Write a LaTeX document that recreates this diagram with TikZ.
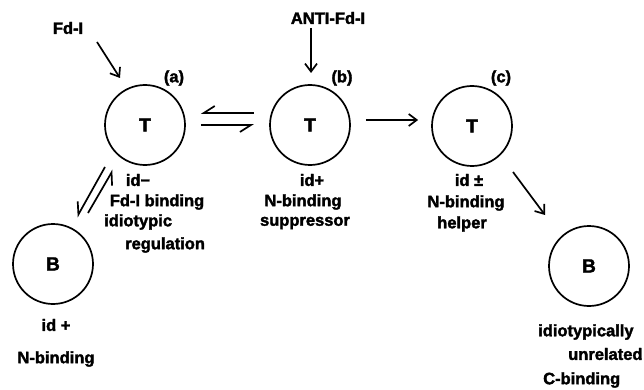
\documentclass[tikz,border=0pt]{standalone}
\usepackage{fontspec}
\setmainfont{Liberation Sans}[BoldFeatures={FakeBold=2}]
\usetikzlibrary{arrows.meta}
\newcommand\lblfont{\fontsize{16.5}{19}\selectfont\bfseries}
\newcommand\cellfont{\fontsize{19}{22}\selectfont\bfseries}
\begin{document}
\begin{tikzpicture}[x=1pt,y=-1pt,
  cell/.style={circle,draw,line width=1.7pt,minimum size=80pt,inner sep=0pt,font=\cellfont},
  lbl/.style={font=\lblfont,inner sep=0pt},
  arr/.style={line width=1.7pt,-{Straight Barb[length=8pt,width=12pt,line width=1.7pt]}},
  harps/.style={line width=1.7pt,-{Straight Barb[harpoon,swap,length=11pt,width=14pt,line width=1.7pt]}}]
\useasboundingbox (0,0) rectangle (644,390);
% cells
\node[cell] (a) at (145,125) {T};
\node[cell] (b) at (310,125) {T};
\node[cell] (c) at (472,126) {T};
\node[cell] (bl) at (53,264) {B};
\node[cell] (br) at (589,266) {B};
% top labels
\node[lbl] (fdi) at (68,28) {Fd-I};
\node[lbl] (anti) at (328,18) {ANTI-Fd-I};
\node[lbl] (la) at (174,78) {(a)};
\node[lbl] (lb) at (342,78) {(b)};
\node[lbl] (lc) at (501,78) {(c)};
% texts under a
\node[lbl] (ida) at (138,180) {id\textminus};
\node[lbl] (fdb) at (157,202) {Fd-I binding};
\node[lbl,anchor=west] (idio) at (104,222) {idiotypic};
\node[lbl,anchor=west] (regu) at (125,245) {regulation};
% under b
\node[lbl] (idb) at (312,180) {id+};
\node[lbl] (nbb) at (303,202) {N-binding};
\node[lbl] (supp) at (305,223) {suppressor};
% under c
\node[lbl] (idc) at (469,180) {id \textpm};
\node[lbl] (nbc) at (466,203) {N-binding};
\node[lbl] (help) at (462,224) {helper};
% under B left
\node[lbl] (idbl) at (56,325) {id +};
\node[lbl] (nbl) at (56,359) {N-binding};
% under B right
\node[lbl,anchor=west] (unr1) at (538,332) {idiotypically};
\node[lbl,anchor=west] (unr2) at (568,354) {unrelated};
\node[lbl,anchor=west] (cbin) at (543,380) {C-binding};
% connectors
\coordinate (fdiend) at (120,78);
\draw[arr] ([shift={(29,14)}]fdi.center) -- (fdiend);
\coordinate (antiend) at (311,73);
\draw[arr] ([shift={(-17,10)}]anti.center) -- (antiend);
\draw[arr] ([shift={(15,-5)}]b.east) -- ([shift={(-13,-6)}]c.west);
\draw[arr] ([shift={(41,46)}]c.center) -- ([shift={(-44,-51)}]br.center);
% equilibrium a <-> b
\draw[harps] ([shift={(68,-12)}]a.east) -- ([shift={(15,-12)}]a.east);
\draw[harps] ([shift={(15,0)}]a.east) -- ([shift={(68,0)}]a.east);
% equilibrium a <-> B
\draw[harps] ([shift={(-40,42)}]a.center) -- ([shift={(24,-47)}]bl.center);
\draw[harps] ([shift={(35,-51)}]bl.center) -- ([shift={(-32,45)}]a.center);
\end{tikzpicture}
\end{document}
